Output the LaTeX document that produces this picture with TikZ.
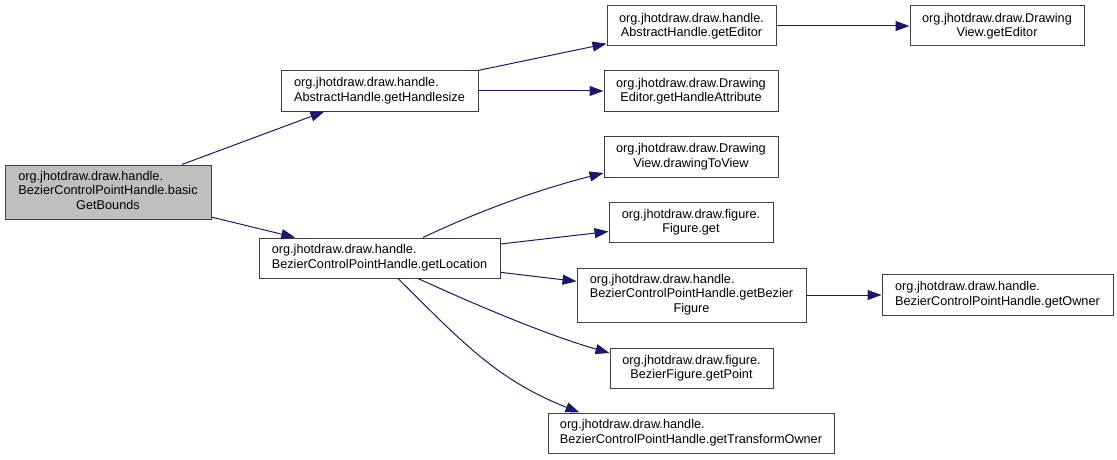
\documentclass[tikz,border=0pt]{standalone}
\usepackage{fontspec}
\setmainfont{Liberation Sans}
\usetikzlibrary{arrows.meta}
\definecolor{edgecol}{HTML}{191970}
\definecolor{bordercol}{HTML}{404040}
\definecolor{rootfill}{HTML}{BFBFBF}
\newcommand{\lftlines}[1]{\begin{tabular}{@{}l@{}}#1\end{tabular}}
\newcommand{\ctrline}[1]{\multicolumn{1}{@{}c@{}}{#1}}
\begin{document}
\begin{tikzpicture}[x=1pt,y=-1pt,
  box/.style={draw=bordercol, line width=1pt, fill=white, inner sep=0pt,
    font=\fontsize{12.7pt}{14.5pt}\selectfont, align=center, minimum height=40pt},
  edge/.style={draw=edgecol, line width=1pt, -{Triangle[length=14pt,width=10pt]}}]
\useasboundingbox (0,0) rectangle (1117,460);

\node[box, fill=rootfill, minimum width=206pt, minimum height=54pt] (root) at (108,192)
  {\lftlines{org.jhotdraw.draw.handle.\\BezierControlPointHandle.basic\\\ctrline{GetBounds}}};
\node[box, minimum width=197pt] (hsize) at (379.5,91)
  {\lftlines{org.jhotdraw.draw.handle.\\AbstractHandle.getHandlesize}};
\node[box, minimum width=241pt] (loc) at (379.5,258)
  {\lftlines{org.jhotdraw.draw.handle.\\BezierControlPointHandle.getLocation}};
\node[box, minimum width=169pt] (aedit) at (691.5,26)
  {org.jhotdraw.draw.handle.\\AbstractHandle.getEditor};
\node[box, minimum width=174pt] (attr) at (691,91)
  {org.jhotdraw.draw.Drawing\\Editor.getHandleAttribute};
\node[box, minimum width=174pt] (dvedit) at (997,26)
  {org.jhotdraw.draw.Drawing\\View.getEditor};
\node[box, minimum width=174pt, minimum height=41pt] (d2v) at (691,156.5)
  {org.jhotdraw.draw.Drawing\\View.drawingToView};
\node[box, minimum width=164pt] (fget) at (691,222)
  {org.jhotdraw.draw.figure.\\Figure.get};
\node[box, minimum width=229pt, minimum height=54pt] (bfig) at (691.5,295)
  {\lftlines{org.jhotdraw.draw.handle.\\BezierControlPointHandle.getBezier\\\ctrline{Figure}}};
\node[box, minimum width=231pt, minimum height=41pt] (owner) at (997.5,295)
  {\lftlines{org.jhotdraw.draw.handle.\\BezierControlPointHandle.getOwner}};
\node[box, minimum width=163pt] (gpoint) at (691.5,368)
  {org.jhotdraw.draw.figure.\\BezierFigure.getPoint};
\node[box, minimum width=286pt] (towner) at (691,433)
  {\lftlines{org.jhotdraw.draw.handle.\\BezierControlPointHandle.getTransformOwner}};

\draw[edge] (root) -- (hsize);
\draw[edge] (root) -- (loc);
\draw[edge] (hsize) -- (aedit);
\draw[edge] (hsize) -- (attr);
\draw[edge] (aedit) -- (dvedit);
\draw[edge] ([xshift=43.5pt]loc.north) .. controls (483,209) and (544,188) .. ([yshift=-16.5pt]d2v.west);
\draw[edge] (loc) -- (fget);
\draw[edge] (loc) -- (bfig);
\draw[edge] ([xshift=38.5pt]loc.south) .. controls (477,305.5) and (547,335) .. ([yshift=15pt]gpoint.west);
\draw[edge] ([xshift=18.5pt]loc.south) .. controls (461.6,341.6) and (496.5,379.6) .. ([xshift=32pt]towner.north west);
\draw[edge] (bfig) -- (owner);
\end{tikzpicture}
\end{document}
